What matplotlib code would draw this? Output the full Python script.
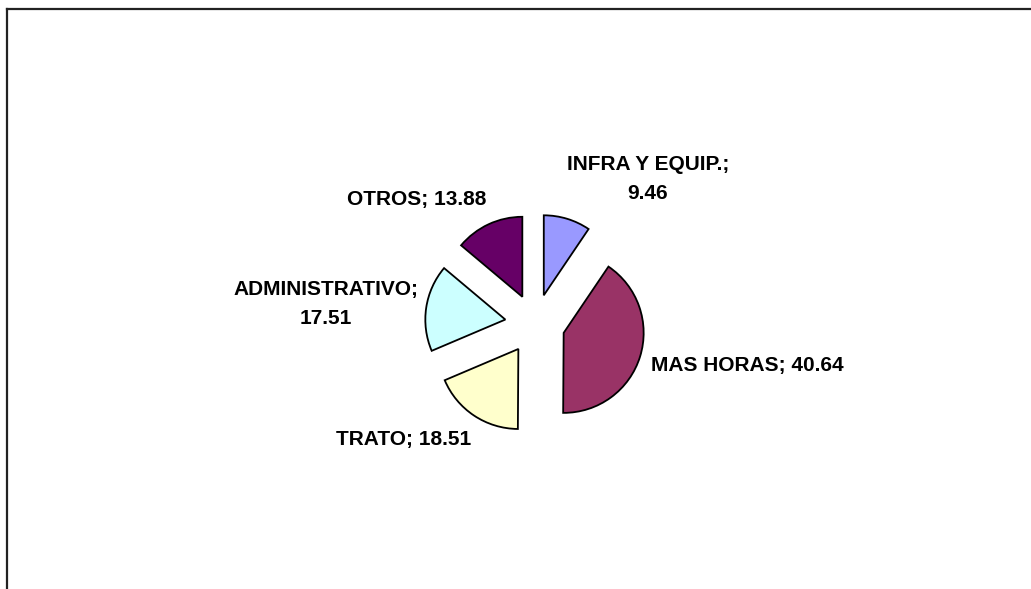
import matplotlib
matplotlib.use("Agg")
import matplotlib.pyplot as plt
from matplotlib.lines import Line2D

labels = ["INFRA Y EQUIP.", "MAS HORAS", "TRATO", "ADMINISTRATIVO", "OTROS"]
values = [9.46, 40.64, 18.51, 17.51, 13.88]
colors = ["#9999FF", "#993366", "#FFFFCC", "#CCFFFF", "#660066"]
two_line = ["INFRA Y EQUIP.", "ADMINISTRATIVO"]

W, H = 1031, 589
CX, CY, R = 535, 324, 80  # pie centre and radius in pixels (from top-left)


def px(x, y):
    # pixel position (top-left origin) -> data units where radius = 1
    return (x - CX) / R, (CY - y) / R


fig = plt.figure(figsize=(W / 100, H / 100), dpi=100)
ax = fig.add_axes([0, 0, 1, 1])

ax.pie(values, colors=colors, startangle=90, counterclock=False,
       explode=[0.375] * len(values), radius=1,
       wedgeprops=dict(edgecolor="black", linewidth=1.3))

ax.set_xlim(-CX / R, (W - CX) / R)
ax.set_ylim(-(H - CY) / R, CY / R)
ax.set_aspect("auto")
ax.axis("off")

label_pos = [(648, 179), (747, 365), (404, 440), (326, 304), (417, 200)]
for lab, val, (x, y) in zip(labels, values, label_pos):
    sep = ";\n" if lab in two_line else "; "
    tx, ty = px(x, y)
    ax.text(tx, ty, f"{lab}{sep}{val:.2f}", ha="center", va="center",
            fontsize=15, fontweight="bold", family="Liberation Sans",
            linespacing=1.65, color="black")

# chart area border (right and bottom edges fall outside the image)
fig.add_artist(Line2D([7 / W, 1], [1 - 8.5 / H] * 2, color="#222222", lw=1.6))
fig.add_artist(Line2D([7 / W] * 2, [0, 1 - 8.5 / H], color="#222222", lw=1.6))

fig.savefig("out.png", dpi=100)
